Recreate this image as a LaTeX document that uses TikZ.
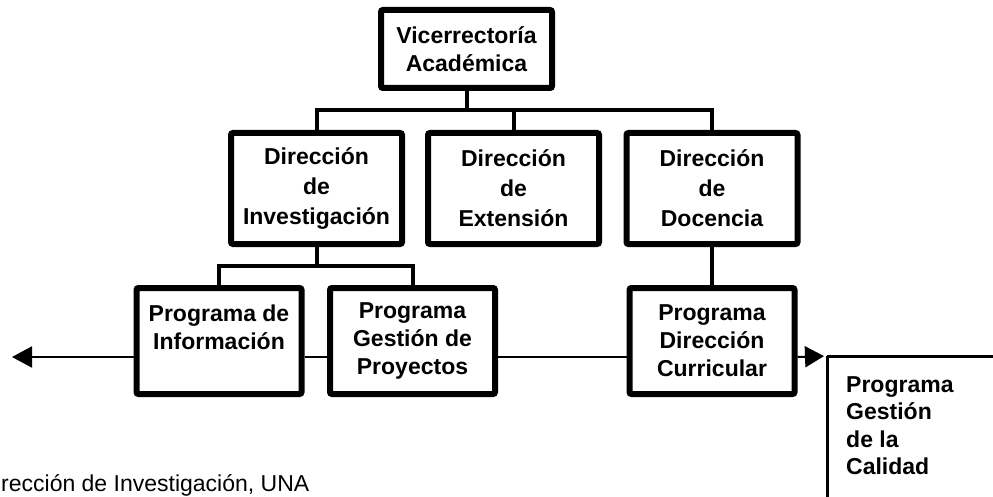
\documentclass[tikz,border=0pt]{standalone}
\usepackage{fontspec}
\setmainfont{Liberation Sans}
\usetikzlibrary{calc,arrows.meta}

\begin{document}
\begin{tikzpicture}[x=1pt,y=-1pt,
  caja/.style={draw,line width=6pt,rounded corners=2pt,align=center,inner sep=0pt,font=\bfseries\fontsize{23}{28}\selectfont},
  dir/.style={caja,minimum width=171pt,minimum height=111pt,font=\bfseries\fontsize{23}{30}\selectfont},
  prog/.style={caja,minimum width=165pt,minimum height=106pt},
  rama/.style={line width=4pt},
  flujo/.style={line width=2pt}]
    \useasboundingbox (0,0) rectangle (993,497);

    \node[caja,minimum width=171pt,minimum height=78pt] (vice) at (466.5,49) {Vicerrectoría\\Académica};

    \node[dir] (inv) at (316.5,188.5) {Dirección\\de\\Investigación};
    \node[dir] (ext) at (513.5,188.5) {Dirección\\de\\Extensión};
    \node[dir] (doc) at (712,188.5) {Dirección\\de\\Docencia};

    \node[prog] (info) at (219,341) {Programa de\\Información\\~};
    \node[prog] (proy) at (412.5,341) {Programa\\Gestión de\\Proyectos};
    \node[prog] (curr) at (712,341) {Programa\\Dirección\\Curricular};

    \node[anchor=north west,align=left,inner xsep=19pt,inner ysep=20pt,font=\bfseries\fontsize{23}{27.5}\selectfont] (calidad) at (827,356) {Programa\\Gestión\\de la\\Calidad};
    \draw[line width=3pt] (calidad.north west) -- ++(166,0);
    \draw[line width=3pt] (calidad.north west) -- ++(0,141);

    \node[anchor=base west,inner sep=0pt,font=\fontsize{23}{28}\selectfont] (fuente) at (1,491) {rección de Investigación, UNA};

    % lineas del organigrama
    \coordinate (barra) at ($(vice.south)!.5!(ext.north)$);
    \draw[rama] (vice.south) -- (vice.south |- barra);
    \draw[rama] (ext.north) -- (ext.north |- barra);
    \draw[rama] (inv.north) |- (barra) -| (doc.north);
    \coordinate (barrab) at ($(inv.south)!.5!(info.north)$);
    \draw[rama] (inv.south) -- (inv.south |- barrab);
    \draw[rama] (info.north) |- (barrab) -| (proy.north);
    \draw[rama] (doc.south) -- (curr.north);

    % linea de flujo
    \coordinate (izq) at (12,357);
    \draw[flujo,-{Triangle[length=20pt,width=21pt]}] (info.west |- izq) -- (izq);
    \draw[flujo] (info.east |- izq) -- (proy.west |- izq);
    \draw[flujo] (proy.east |- izq) -- (curr.west |- izq);
    \draw[flujo,-{Triangle[length=19pt,width=21pt]},shorten >=3pt] (curr.east |- izq) -- (calidad.north west);
\end{tikzpicture}
\end{document}
